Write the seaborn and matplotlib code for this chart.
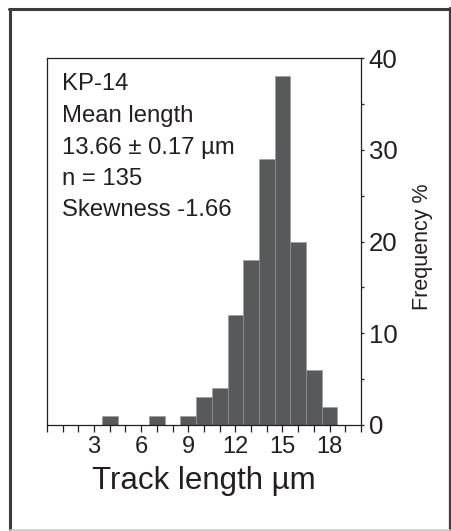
import numpy as np
import pandas as pd
import matplotlib
matplotlib.use("Agg")
import matplotlib.pyplot as plt
from matplotlib.lines import Line2D
import seaborn as sns

# ---- data ----
track_centers = [4, 7, 9, 10, 11, 12, 13, 14, 15, 16, 17, 18]
frequency = [1, 1, 1, 3, 4, 12, 18, 29, 38, 20, 6, 2]
x_major_ticks = [3, 6, 9, 12, 15, 18]
x_minor_ticks = list(range(0, 21))
y_major_ticks = [0, 10, 20, 30, 40]
y_minor_ticks = [5, 15, 25, 35]
info_lines = ["KP-14", "Mean length", "13.66 \u00b1 0.17 \u00b5m", "n = 135", "Skewness -1.66"]

df = pd.DataFrame({"length": track_centers, "freq": frequency})

sns.set_style("white")
plt.rcParams["font.family"] = ["Liberation Sans", "DejaVu Sans"]

W, H = 452, 531
fig = plt.figure(figsize=(W / 100, H / 100), dpi=100)
ax = fig.add_axes([47 / W, 1 - 425 / H, (361 - 47) / W, (425 - 58) / H])

dark = "#231f20"
sns.histplot(data=df, x="length", weights="freq", binwidth=1, binrange=(0.5, 18.5), ax=ax,
             color="#58595b", alpha=1, edgecolor="#9a9a9a", linewidth=0.4)

ax.set_xlim(0, 20)
ax.set_ylim(0, 40)

for s in ax.spines.values():
    s.set_visible(True)
    s.set_color(dark)
    s.set_linewidth(0.9)

ax.set_xticks(x_major_ticks)
ax.set_xticks(x_minor_ticks, minor=True)
ax.set_yticks(y_major_ticks)
ax.set_yticks(y_minor_ticks, minor=True)
ax.yaxis.tick_right()
ax.tick_params(axis="x", which="both", direction="out", length=5, width=0.9,
               color=dark, bottom=True, top=False, labelsize=17, pad=3, labelcolor=dark)
ax.tick_params(axis="y", which="both", direction="out", length=2.5, width=0.9,
               color=dark, right=True, left=False, labelright=True, labelleft=False,
               labelsize=18.5, pad=3, labelcolor=dark)

ax.set_xlabel("Track length \u00b5m", fontsize=22.5, color=dark, labelpad=6)
ax.set_ylabel("Frequency %", fontsize=15.5, color=dark)
ax.yaxis.set_label_position("right")
ax.yaxis.set_label_coords((423 - 47) / 314, (425 - 247) / 367)
ax.yaxis.label.set_ha("center")
ax.yaxis.label.set_va("center")

baselines = [90.5, 121.6, 153.7, 185, 216]
for txt, b in zip(info_lines, baselines):
    ax.text((62 - 47) / 314, (425 - b) / 367, txt, transform=ax.transAxes,
            fontsize=17.2, color=dark, ha="left", va="baseline")

# outer frame
fig.add_artist(Line2D([9.5 / W, 9.5 / W], [0, 1 - 8.5 / H], transform=fig.transFigure,
                      color="#3c3c3c", linewidth=2.2))
fig.add_artist(Line2D([8.5 / W, 451 / W], [1 - 8.5 / H, 1 - 8.5 / H], transform=fig.transFigure,
                      color="#3c3c3c", linewidth=2.2))
fig.add_artist(Line2D([450.5 / W, 450.5 / W], [1.5 / H, 1 - 7.5 / H], transform=fig.transFigure,
                      color="#3c3c3c", linewidth=1.6))
fig.add_artist(Line2D([9.5 / W, 450 / W], [1.0 / H, 1.0 / H], transform=fig.transFigure,
                      color="#c8c8c8", linewidth=1.2))

fig.savefig("out.png", dpi=100)
